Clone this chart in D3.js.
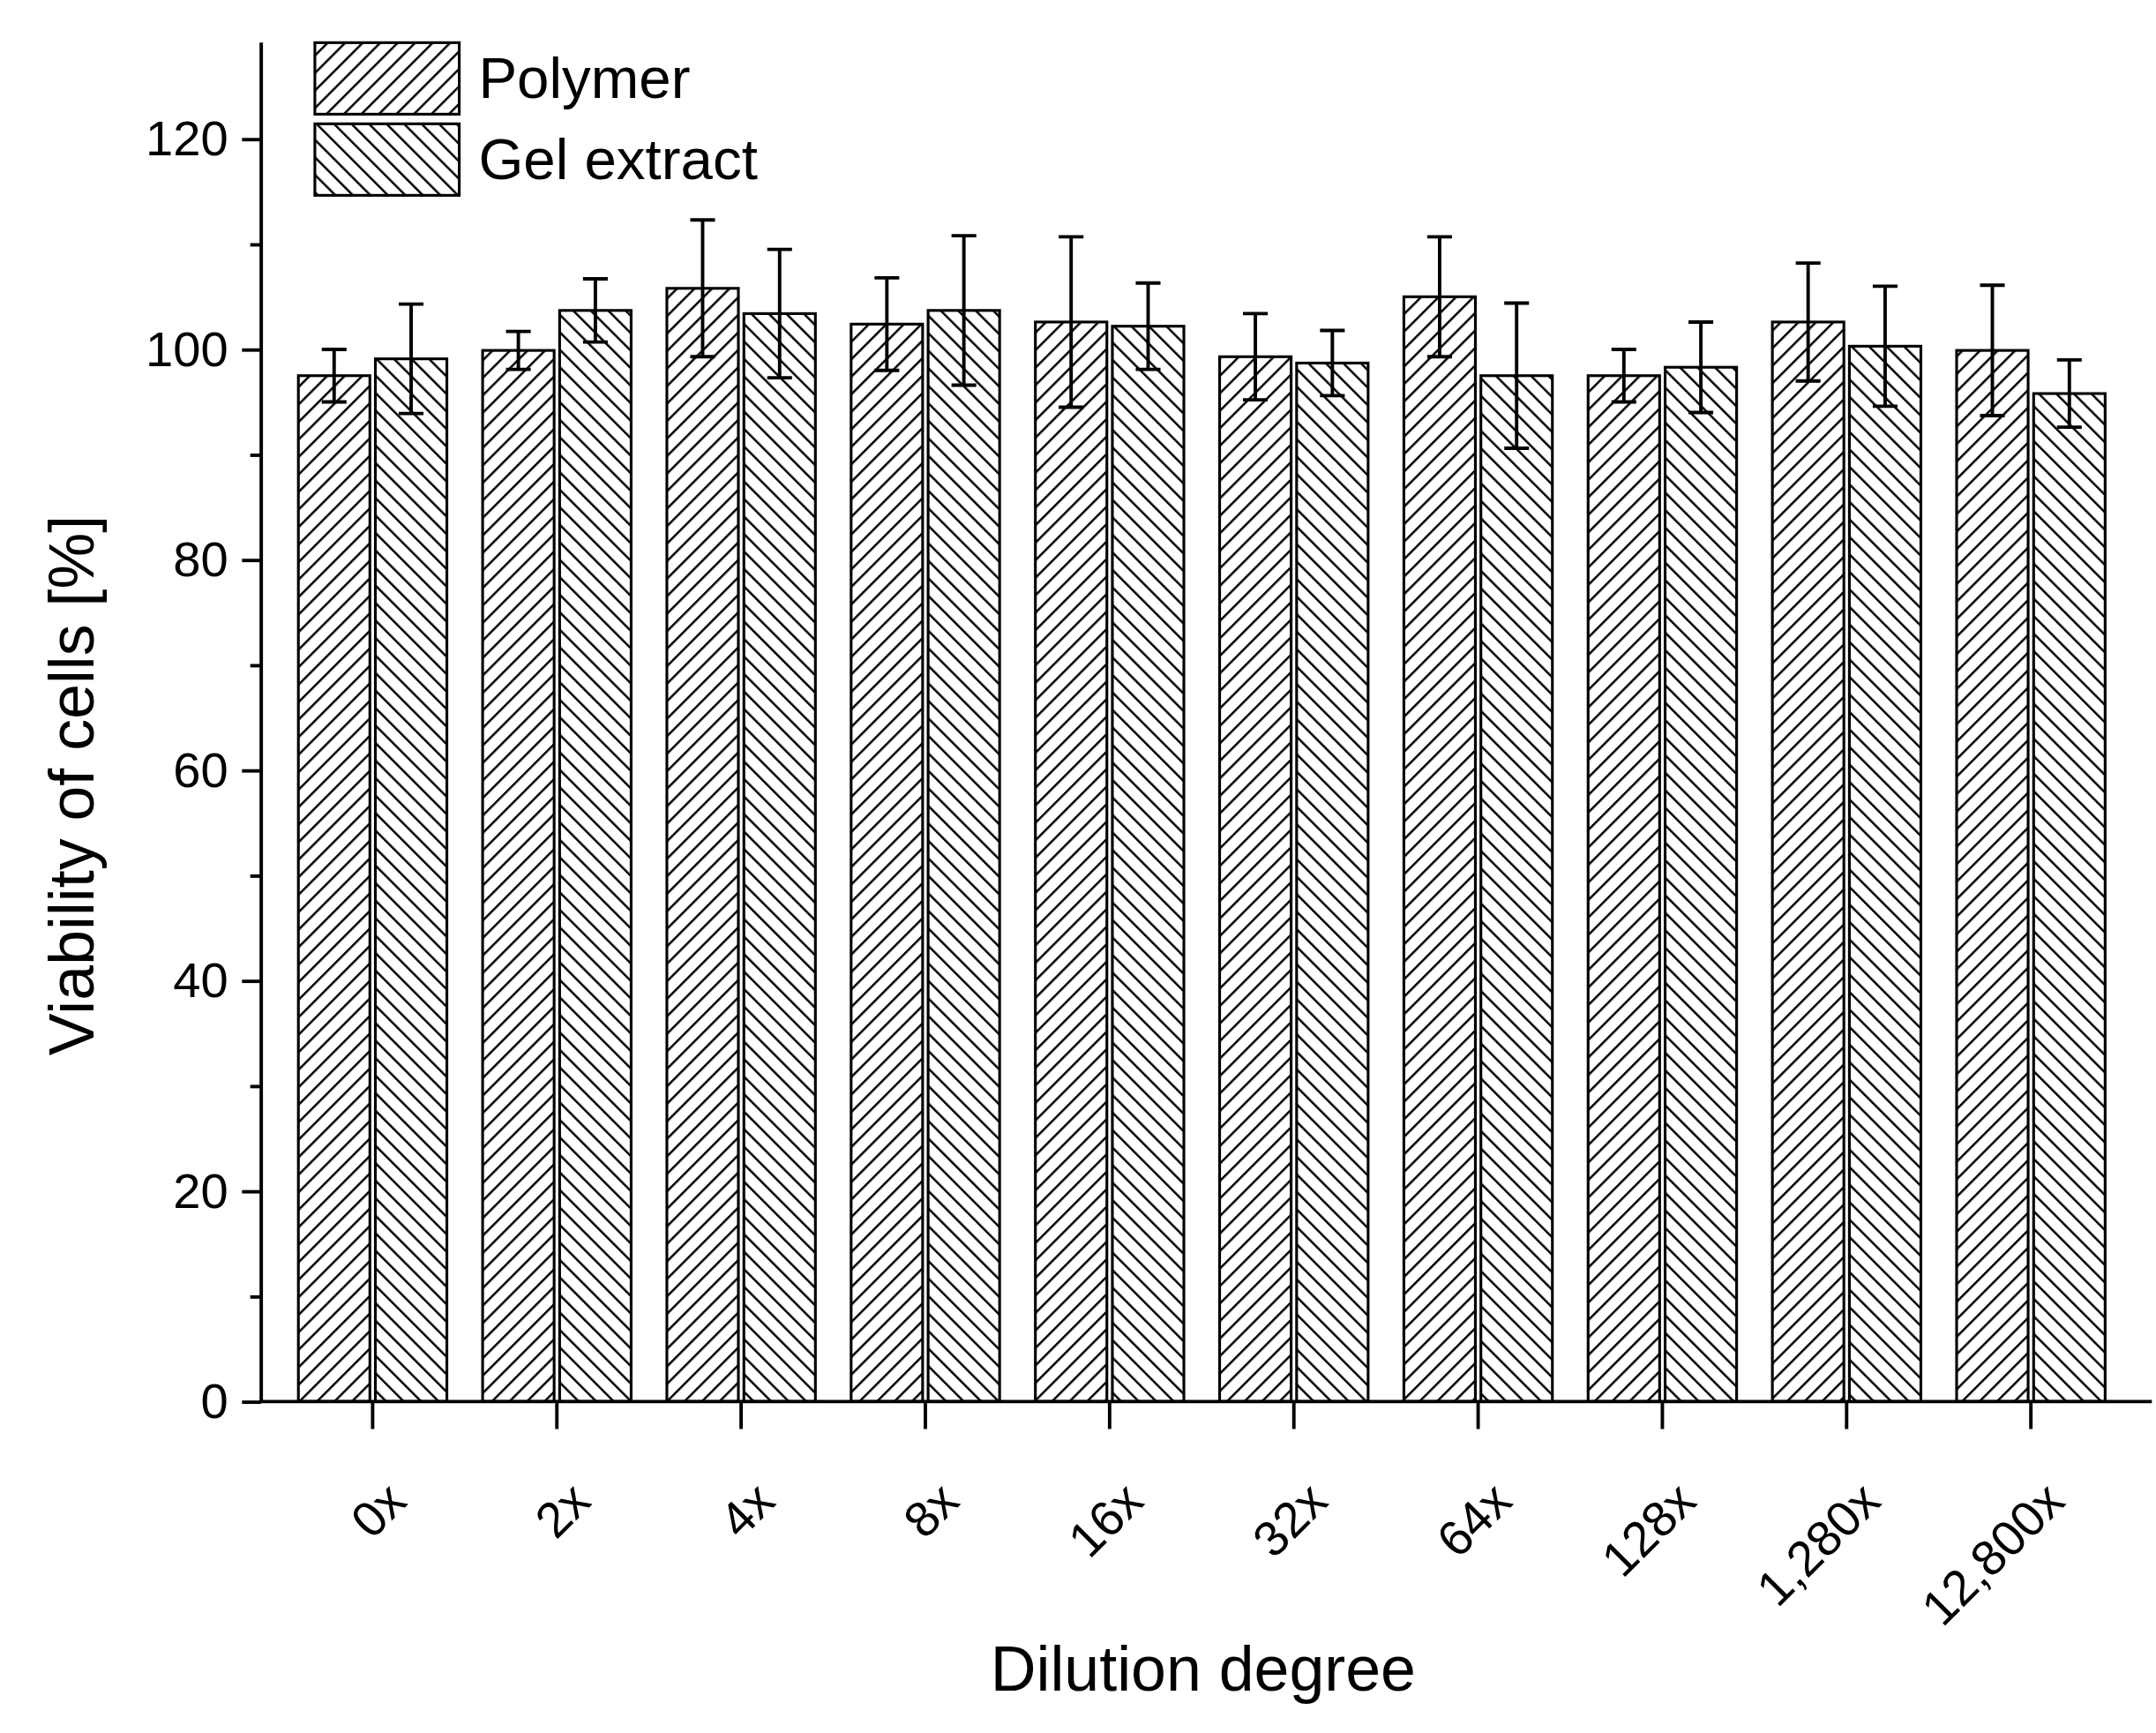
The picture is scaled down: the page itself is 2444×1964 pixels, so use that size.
<!DOCTYPE html>
<html><head><meta charset="utf-8">
<script src="https://cdn.jsdelivr.net/npm/d3@7"></script>
<style>body{margin:0;background:#fff}</style>
</head><body>
<script>
// data
const categories = ["0x","2x","4x","8x","16x","32x","64x","128x","1,280x","12,800x"];
const polymer    = [97.5, 99.9, 105.8, 102.4, 102.6, 99.3, 105.0, 97.5, 102.6, 99.9];
const polymerErr = [2.5, 1.8, 6.5, 4.4, 8.1, 4.1, 5.7, 2.5, 5.6, 6.2];
const gel        = [99.1, 103.7, 103.4, 103.7, 102.2, 98.7, 97.5, 98.3, 100.3, 95.8];
const gelErr     = [5.2, 3.0, 6.1, 7.1, 4.1, 3.1, 6.9, 4.3, 5.7, 3.2];
const seriesNames = ["Polymer", "Gel extract"];

const W = 1568, H = 1258;
const svg = d3.select("body").append("svg")
  .attr("width", 2444).attr("height", 1964)
  .attr("viewBox", `0 0 ${W} ${H}`)
  .style("font-family", "'Liberation Sans', Arial, sans-serif");

const defs = svg.append("defs");
function hatch(id, dir) {
  const p = defs.append("pattern").attr("id", id)
    .attr("patternUnits", "userSpaceOnUse").attr("width", 9).attr("height", 9)
    .attr("patternTransform", `rotate(${dir})`);
  p.append("rect").attr("width", 9).attr("height", 9).attr("fill", "#fff");
  p.append("line").attr("x1", 0).attr("y1", 0).attr("x2", 0).attr("y2", 9)
    .attr("stroke", "#000").attr("stroke-width", 3.2);
}
hatch("h1", 45);
hatch("h2", -45);

const axLeft = 190, axRight = 1565, axTop = 30, axBottom = 1018;
const x = d3.scaleBand().domain(categories).range([204, 1544]).padding(0);
const y = d3.scaleLinear().domain([0, 120]).range([axBottom, 100]);
const bw = 52, gap = 4;

const g = svg.append("g");
const series = [
  {vals: polymer, err: polymerErr, fill: "url(#h1)", off: -gap / 2 - bw},
  {vals: gel, err: gelErr, fill: "url(#h2)", off: gap / 2}
];
series.forEach(s => {
  const cx = c => x(c) + x.bandwidth() / 2;
  g.selectAll(null).data(categories).join("rect")
    .attr("x", c => cx(c) + s.off).attr("width", bw)
    .attr("y", (c, i) => y(s.vals[i])).attr("height", (c, i) => axBottom - y(s.vals[i]))
    .attr("fill", s.fill).attr("stroke", "#000").attr("stroke-width", 2);
  const ex = c => cx(c) + s.off + bw / 2;
  g.selectAll(null).data(categories).join("path")
    .attr("d", (c, i) => {
      const X = ex(c), y1 = y(s.vals[i] - s.err[i]), y2 = y(s.vals[i] + s.err[i]);
      return `M${X},${y1}V${y2}M${X - 9},${y2}H${X + 9}M${X - 9},${y1}H${X + 9}`;
    })
    .attr("fill", "none").attr("stroke", "#000").attr("stroke-width", 2.5);
});

// y axis
const ya = svg.append("g").attr("transform", `translate(${axLeft},0)`)
  .call(d3.axisLeft(y).tickValues(d3.range(0, 121, 20)).tickSize(14).tickPadding(10).tickSizeOuter(0));
svg.append("g").attr("transform", `translate(${axLeft},0)`)
  .call(d3.axisLeft(y).tickValues(d3.range(10, 121, 20)).tickSize(8).tickFormat("").tickSizeOuter(0))
  .select(".domain").remove();
ya.select(".domain").attr("d", `M0,${axTop}V${axBottom}`);
ya.selectAll("text").attr("font-size", 36).attr("font-family", "inherit");
svg.selectAll(".tick line, .domain").attr("stroke-width", 2.5);

// x axis
const xa = svg.append("g").attr("transform", `translate(0,${axBottom})`)
  .call(d3.axisBottom(x).tickSize(20).tickSizeOuter(0));
xa.select(".domain").attr("d", `M${axLeft},0H${axRight}`).attr("stroke-width", 2.5);
xa.selectAll(".tick line").attr("stroke-width", 2.5);
xa.selectAll("text").attr("font-size", 36).attr("font-family", "inherit")
  .attr("text-anchor", "end").attr("dy", 0)
  .attr("transform", "translate(10,58) rotate(-45)");

svg.append("text").attr("x", 875).attr("y", 1228).attr("text-anchor", "middle")
  .attr("font-size", 46).text("Dilution degree");
svg.append("text").attr("transform", "translate(68,570) rotate(-90)").attr("text-anchor", "middle")
  .attr("font-size", 46).text("Viability of cells [%]");

// legend
const lg = svg.append("g");
seriesNames.forEach((n, i) => {
  lg.append("rect").attr("x", 229).attr("y", 30 + i * 59).attr("width", 105).attr("height", 52)
    .attr("fill", i ? "url(#h2)" : "url(#h1)").attr("stroke", "#000").attr("stroke-width", 2);
  lg.append("text").attr("x", 348).attr("y", 70 + i * 59).attr("font-size", 42).text(n);
});
</script>
</body></html>
